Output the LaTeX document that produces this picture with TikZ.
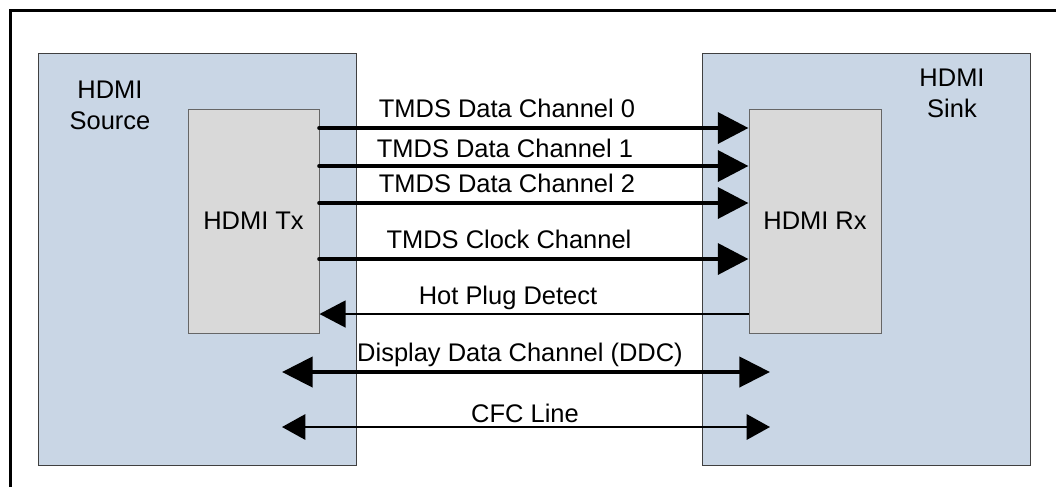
\documentclass[tikz,border=0pt]{standalone}
\usepackage{fontspec}
\setmainfont{Liberation Sans}
\usetikzlibrary{arrows.meta}

% Font size of all labels
\newcommand{\chansize}{\fontsize{19.1}{23.3}\selectfont}

\begin{document}
\begin{tikzpicture}[x=0.75pt, y=-0.75pt, font=\chansize,
	hdmiBox/.style={draw=black!75, line width=0.75pt, fill=hdmiBlue, inner sep=0pt},
	chipBox/.style={draw=black!60, line width=0.75pt, fill=chipGray, inner sep=0pt},
	chanLabel/.style={anchor=base, inner sep=0pt},
	dataArrow/.style={line width=3.5pt, line cap=round, -{Triangle[length=23pt, width=23pt]}},
	hpdArrow/.style={line width=1.8pt, -{Triangle[length=19.5pt, width=20pt]}},
	ddcArrow/.style={line width=3.2pt, {Triangle[length=23pt, width=22.5pt]}-{Triangle[length=23pt, width=22.5pt]}},
	cfcArrow/.style={line width=1.5pt, {Triangle[length=17.5pt, width=19pt]}-{Triangle[length=17.5pt, width=19pt]}}]
		
		\def\px{0.75pt} % one pixel of the drawing
		
		% Define colors
		
		\definecolor{hdmiBlue}{RGB}{201,214,229}
		
		\definecolor{chipGray}{RGB}{217,217,217}
		
		\useasboundingbox (0,0) rectangle (1056,487);
		
		% Draw the frame (only top and left edges show)
		
		\draw[line width=2pt] (10.7,487) -- (10.7,10.7) -- (1056,10.7);
		
		% Draw source and sink boxes
		
		\node[hdmiBox, minimum width=318*\px, minimum height=412*\px] (source) at (197,259) {};
		
		\node[hdmiBox, minimum width=328*\px, minimum height=412*\px] (sink) at (866,259) {};
		
		\node[align=center, inner sep=0pt] (srcName) at (110,105.5) {HDMI\\Source};
		
		\node[align=center, inner sep=0pt] (sinkName) at (952,93) {HDMI\\Sink};
		
		% Draw the transmitter and receiver
		
		\node[chipBox, minimum width=131*\px, minimum height=224*\px] (tx) at (253.5,221) {HDMI Tx};
		
		\node[chipBox, minimum width=132*\px, minimum height=224*\px] (rx) at (815,221) {HDMI Rx};
		
		% TMDS channels from Tx to Rx
		
		\foreach \y/\by/\lx/\txt in {128/117/507/TMDS Data Channel 0, 166/157/505/TMDS Data Channel 1, 203/192/507/TMDS Data Channel 2, 259/248/509/TMDS Clock Channel}
		{
			\draw[dataArrow] (tx.east |- 0,\y) -- (rx.west |- 0,\y);
			\node[chanLabel] (lbl\y) at (\lx,\by) {\txt};
		}
		
		% Hot plug detect back to Tx
		
		\draw[hpdArrow] (rx.west |- 0,314) -- (tx.east |- 0,314);
		
		\node[chanLabel] (lblHpd) at (508,304) {Hot Plug Detect};
		
		% Two-way lines between the boxes
		
		\coordinate (ddcL) at (282,372);
		
		\coordinate (ddcR) at (770,372);
		
		\draw[ddcArrow] (ddcL) -- (ddcR);
		
		\node[chanLabel] (lblDdc) at (520,361) {Display Data Channel (DDC)};
		
		\coordinate (cfcL) at (282,427);
		
		\coordinate (cfcR) at (770,427);
		
		\draw[cfcArrow] (cfcL) -- (cfcR);
		
		\node[chanLabel] (lblCfc) at (525,422) {CFC Line};
		
	\end{tikzpicture}
\end{document}
